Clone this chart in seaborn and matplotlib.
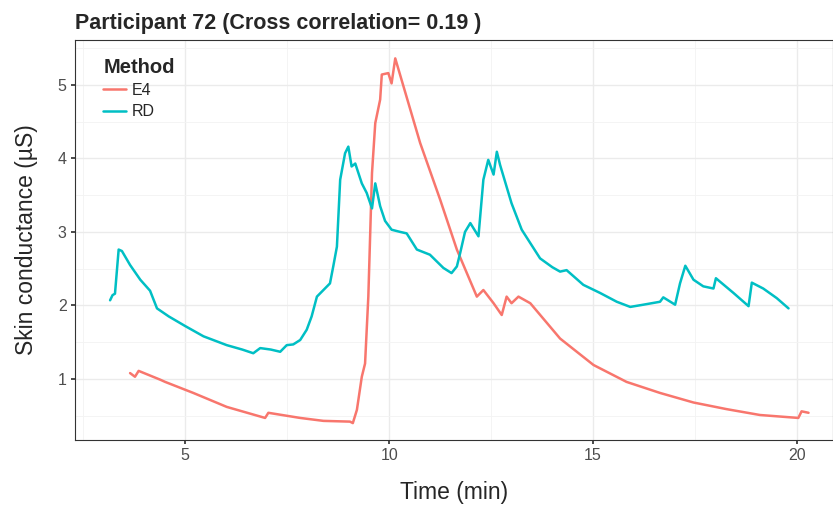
import pandas as pd
import matplotlib.pyplot as plt
import seaborn as sns

# RD series (time in min, skin conductance in uS)
rd_time = [3.16, 3.22, 3.28, 3.37, 3.45, 3.65, 3.9, 4.14, 4.31, 4.6, 5.0, 5.45, 6.02,
           6.4, 6.67, 6.84, 7.1, 7.33, 7.49, 7.65, 7.82, 7.98, 8.1, 8.23, 8.39, 8.55,
           8.63, 8.72, 8.80, 8.92, 9.0, 9.08, 9.17, 9.33, 9.45, 9.58, 9.66, 9.78, 9.9,
           10.06, 10.27, 10.43, 10.68, 11.0, 11.33, 11.53, 11.66, 11.74, 11.86, 11.99,
           12.19, 12.31, 12.43, 12.56, 12.64, 12.72, 13.0, 13.25, 13.70, 14.0, 14.19,
           14.35, 14.76, 15.17, 15.58, 15.91, 16.23, 16.64, 16.72, 17.01, 17.13, 17.26,
           17.46, 17.70, 17.95, 18.01, 18.44, 18.81, 18.89, 19.17, 19.5, 19.79]
rd_value = [2.07, 2.14, 2.16, 2.76, 2.74, 2.55, 2.35, 2.2, 1.96, 1.85, 1.72, 1.58, 1.46,
            1.40, 1.35, 1.42, 1.40, 1.37, 1.46, 1.47, 1.53, 1.67, 1.85, 2.12, 2.21, 2.30,
            2.53, 2.8, 3.71, 4.07, 4.16, 3.89, 3.93, 3.66, 3.53, 3.32, 3.66, 3.35, 3.15,
            3.03, 3.0, 2.98, 2.76, 2.69, 2.51, 2.44, 2.53, 2.71, 3.0, 3.12, 2.94, 3.71,
            3.98, 3.78, 4.09, 3.91, 3.39, 3.03, 2.64, 2.52, 2.46, 2.48, 2.28, 2.17, 2.05,
            1.98, 2.01, 2.05, 2.11, 2.01, 2.30, 2.54, 2.35, 2.26, 2.23, 2.37, 2.17, 1.99,
            2.31, 2.23, 2.10, 1.96]

# E4 series
e4_time = [3.65, 3.77, 3.86, 4.39, 4.51, 5.20, 6.02, 6.96, 7.04, 7.82, 8.39, 9.04,
           9.11, 9.21, 9.33, 9.41, 9.49, 9.58, 9.66, 9.78, 9.82, 9.98, 10.06, 10.15,
           10.76, 11.25, 11.66, 12.15, 12.31, 12.56, 12.76, 12.88, 13.0, 13.17, 13.46,
           14.19, 14.44, 15.01, 15.82, 16.64, 17.46, 18.27, 19.09, 20.03, 20.11, 20.28]
e4_value = [1.08, 1.03, 1.11, 0.99, 0.96, 0.81, 0.62, 0.47, 0.54, 0.47, 0.43, 0.42,
            0.40, 0.58, 1.03, 1.21, 2.12, 3.80, 4.48, 4.80, 5.14, 5.16, 5.02, 5.36,
            4.21, 3.44, 2.76, 2.12, 2.21, 2.03, 1.87, 2.12, 2.03, 2.12, 2.03, 1.55,
            1.44, 1.19, 0.96, 0.81, 0.68, 0.59, 0.51, 0.47, 0.56, 0.54]

df = pd.concat([
    pd.DataFrame({'Time': e4_time, 'SC': e4_value, 'Method': 'E4'}),
    pd.DataFrame({'Time': rd_time, 'SC': rd_value, 'Method': 'RD'}),
])

sns.set_theme(style='whitegrid')
plt.rcParams['font.family'] = ['Liberation Sans', 'DejaVu Sans']

fig = plt.figure(figsize=(8.33, 5.05), dpi=100)
ax = fig.add_axes([75 / 833, 65 / 505, 758 / 833, 400 / 505])

sns.lineplot(data=df, x='Time', y='SC', hue='Method', palette=['#F8766D', '#00BFC4'],
             linewidth=1.8, sort=False, estimator=None, ax=ax)

ax.set_xlim(2.3, 20.88)
ax.set_ylim(0.17, 5.61)
ax.set_xticks([5, 10, 15, 20])
ax.set_yticks([1, 2, 3, 4, 5])
ax.set_xticks([2.5, 7.5, 12.5, 17.5], minor=True)
ax.set_yticks([0.5, 1.5, 2.5, 3.5, 4.5, 5.5], minor=True)
ax.grid(which='major', color='#EBEBEB', linewidth=1.0)
ax.grid(which='minor', color='#F3F3F3', linewidth=0.6)
ax.set_axisbelow(True)
for s in ax.spines.values():
    s.set_color('#333333')
    s.set_linewidth(0.8)
ax.tick_params(axis='both', which='major', length=3, color='#333333', labelsize=11.5,
               labelcolor='#4D4D4D', pad=3, bottom=True, left=True)
ax.tick_params(which='minor', length=0)

ax.set_xlabel('Time (min)', fontsize=16.5, labelpad=13)
ax.set_ylabel('Skin conductance (\u00b5S)', fontsize=16.5, labelpad=14)
ax.set_title('Participant 72 (Cross correlation= 0.19 )', loc='left', fontsize=15.5,
             fontweight='bold', pad=8)

leg = ax.legend(title='Method', loc='upper left', frameon=False, fontsize=11.5,
                title_fontsize=14.5, handlelength=1.4, handletextpad=0.4,
                borderaxespad=0.7, labelspacing=0.4, bbox_to_anchor=(0.014, 1.0))
leg.get_title().set_fontweight('bold')
leg._legend_box.align = 'left'

fig.savefig('out.png', dpi=100)
